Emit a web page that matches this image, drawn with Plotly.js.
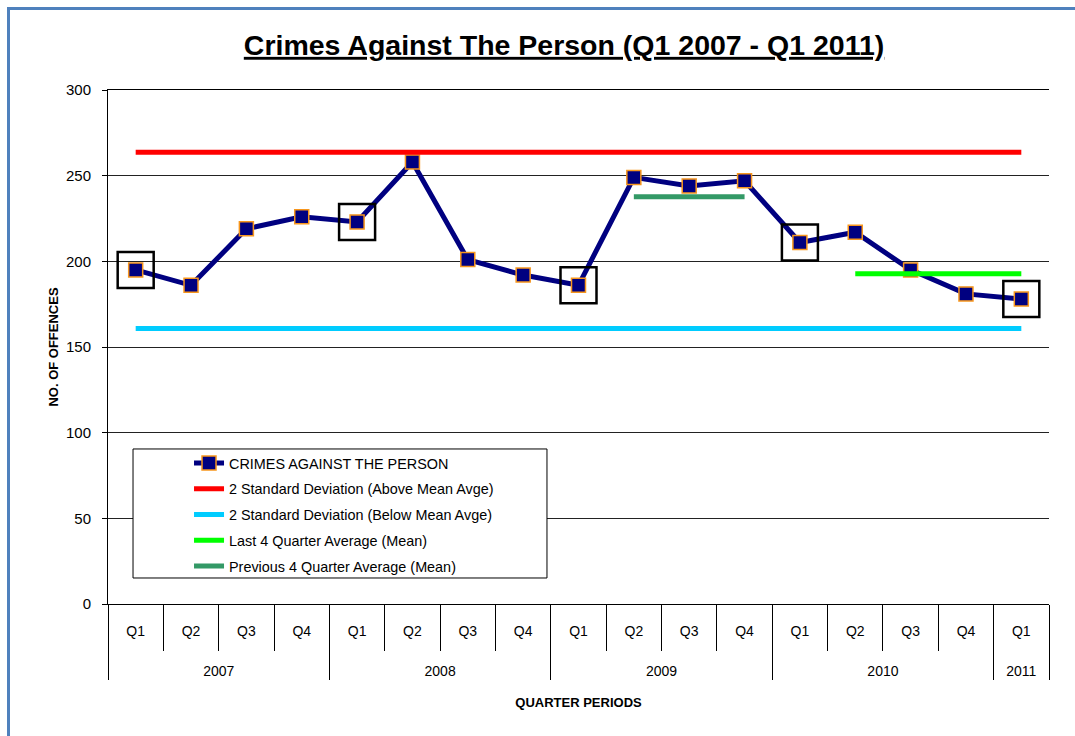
<!DOCTYPE html>
<html>
<head>
<meta charset="utf-8">
<script src="https://cdn.plot.ly/plotly-3.0.1.min.js"></script>
<style>
  html, body { margin: 0; padding: 0; background: #fff; overflow: hidden; }
  #chart { width: 1075px; height: 736px; }
  #frame { position: absolute; left: 7px; top: 7px; width: 1100px; height: 760px;
           border-top: 3px solid #4f81bd; border-left: 3px solid #4f81bd; pointer-events: none; }
</style>
</head>
<body>
<div id="chart"></div>
<div id="frame"></div>
<script>
// quarter periods (outer = year, inner = quarter)
const years = ['2007','2007','2007','2007','2008','2008','2008','2008',
               '2009','2009','2009','2009','2010','2010','2010','2010','2011'];
const quarters = ['Q1','Q2','Q3','Q4','Q1','Q2','Q3','Q4',
                  'Q1','Q2','Q3','Q4','Q1','Q2','Q3','Q4','Q1'];
const offences = [195, 186, 219, 226, 223, 258, 201, 192,
                  186, 249, 244, 247, 211, 217, 195, 181, 178];

// reference levels
const upperLimit = 263.7;   // 2 SD above mean
const lowerLimit = 160.8;   // 2 SD below mean
const last4Avg = 192.75;
const prev4Avg = 237.75;

// where each reference line starts / ends
const limitYears = ['2007','2011'], limitQuarters = ['Q1','Q1'];
const prevYears = ['2009','2009'], prevQuarters = ['Q2','Q4'];
const lastYears = ['2010','2011'], lastQuarters = ['Q2','Q1'];

const font = 'Liberation Sans, Arial, sans-serif';

// push the year row down below the quarter row
const yr = y => '<br><br>' + y;

// Q1 points get a box round them
const q1Idx = quarters.map((q, i) => q === 'Q1' ? i : -1).filter(i => i >= 0);

function flat(name, xs, qs, v, color, group) {
    return {
        x: [xs.map(yr), qs], y: [v, v],
        mode: 'lines', type: 'scatter', name: name,
        legendgroup: group,
        line: { color: color, width: 5 },
        hoverinfo: 'skip'
    };
}

const crimesTrace = {
    x: [years.map(yr), quarters], y: offences,
    mode: 'lines+markers', type: 'scatter',
    name: 'CRIMES AGAINST THE PERSON',
    legendgroup: 'a',
    line: { color: '#000080', width: 5 },
    marker: { symbol: 'square', size: 14, color: '#000080',
              line: { color: '#f7961d', width: 1.5 } }
};

const boxTrace = {
    x: [q1Idx.map(i => yr(years[i])), q1Idx.map(i => quarters[i])],
    y: q1Idx.map(i => offences[i]),
    mode: 'markers', type: 'scatter', showlegend: false,
    marker: { symbol: 'square-open', size: 36, color: '#000',
              line: { color: '#000', width: 2.5 } },
    hoverinfo: 'skip'
};

const data = [
    crimesTrace,
    flat('2 Standard Deviation (Above Mean Avge)', limitYears, limitQuarters, upperLimit, '#ff0000', 'b'),
    flat('2 Standard Deviation (Below Mean Avge)', limitYears, limitQuarters, lowerLimit, '#00ccff', 'c'),
    flat('Last 4 Quarter Average (Mean)', lastYears, lastQuarters, last4Avg, '#00ff00', 'd'),
    flat('Previous 4 Quarter Average (Mean)', prevYears, prevQuarters, prev4Avg, '#339966', 'e'),
    boxTrace
];

const layout = {
    width: 1075, height: 736,
    margin: { l: 108, r: 26, t: 90, b: 132 },
    paper_bgcolor: '#fff', plot_bgcolor: '#fff',
    font: { family: font, color: '#000', size: 14 },
    title: {
        text: 'Crimes Against The Person (Q1 2007 - Q1 2011)',
        font: { family: font, size: 28.5, weight: 'bold', color: '#000', lineposition: 'under' },
        xref: 'container', x: 0.5247, xanchor: 'center',
        yref: 'container', y: 0.939, yanchor: 'middle'
    },
    xaxis: {
        type: 'multicategory',
        range: [-0.5, quarters.length - 0.5],
        showline: true, mirror: true, linecolor: '#000', linewidth: 1,
        ticks: 'outside', tickson: 'boundaries', ticklen: 46, tickcolor: '#000',
        showdividers: true, dividercolor: '#000', dividerwidth: 1,
        tickfont: { size: 14, color: '#000' },
        ticklabelstandoff: 14,
        showgrid: false,
        title: { text: 'QUARTER PERIODS', font: { size: 13, weight: 'bold' }, standoff: 19 }
    },
    yaxis: {
        range: [0, 300], dtick: 50,
        showline: true, linecolor: '#000', linewidth: 1,
        ticks: 'outside', ticklen: 5, tickcolor: '#000',
        showgrid: true, gridcolor: '#222', gridwidth: 1,
        zeroline: false,
        tickfont: { size: 15, color: '#000' },
        ticklabelstandoff: 8,
        title: { text: 'NO. OF OFFENCES', font: { size: 13, weight: 'bold' }, standoff: 4 }
    },
    shapes: [{
        // legend frame
        type: 'rect', xref: 'paper', yref: 'paper', layer: 'above',
        x0: 0.0266, x1: 0.4665, y0: 0.0506, y1: 0.3016,
        fillcolor: '#fff', line: { color: '#000', width: 1 }
    }],
    legend: {
        x: 0.0861, xanchor: 'left', y: 0.305, yanchor: 'top',
        bgcolor: 'rgba(0,0,0,0)', borderwidth: 0,
        font: { size: 14.4, color: '#000' },
        tracegroupgap: 4, traceorder: 'grouped'
    },
    showlegend: true,
    hovermode: 'closest'
};

Plotly.newPlot('chart', data, layout, { displayModeBar: false, staticPlot: true });
</script>
</body>
</html>
